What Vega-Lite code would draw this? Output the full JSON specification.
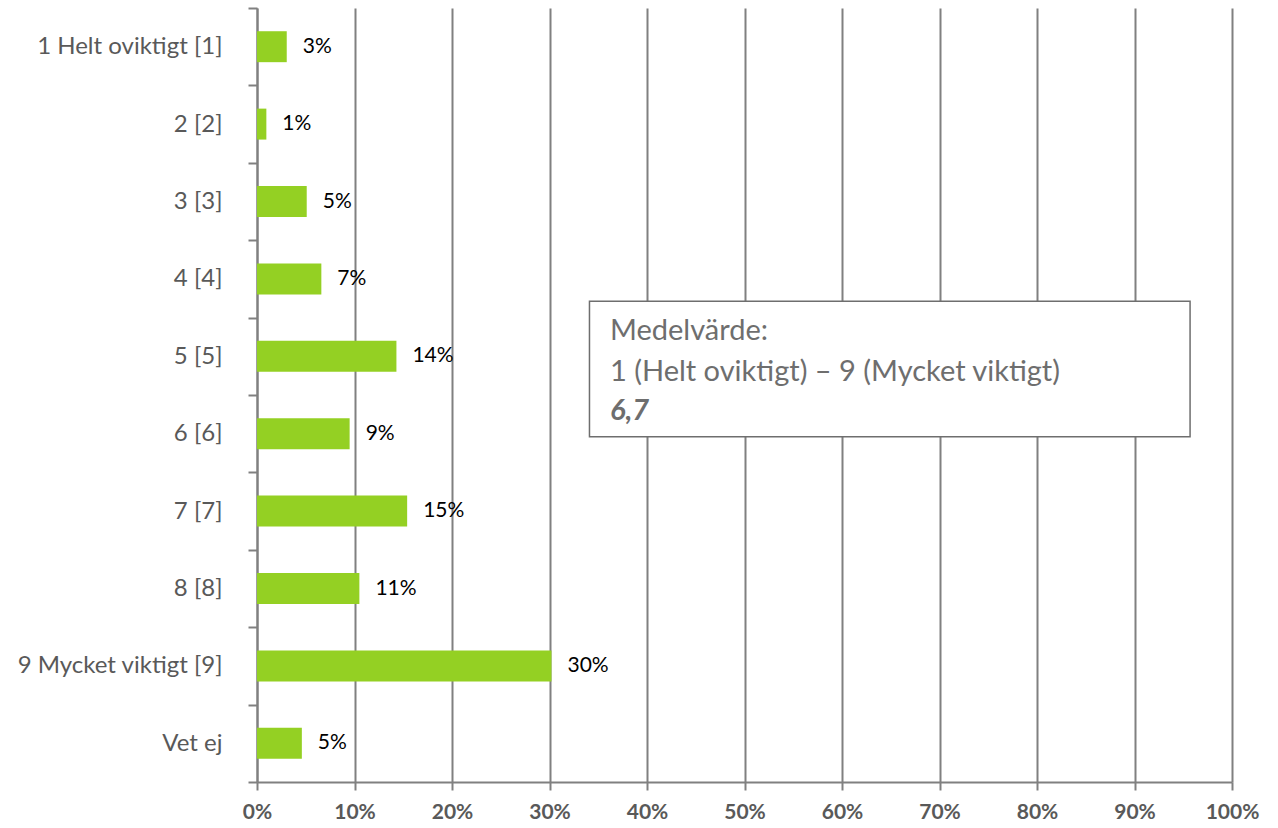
{
  "$schema": "https://vega.github.io/schema/vega-lite/v6.json",
  "autosize": {"type": "none"},
  "padding": {"left": 257, "top": 8, "right": 46, "bottom": 46},
  "width": 975,
  "height": 774,
  "background": "white",
  "config": {
    "view": {"stroke": null},
    "font": "Lato"
  },
  "layer": [
    {
      "data": {
        "values": [
          {"category": "1 Helt oviktigt [1]", "value": 3.05, "label": "3%"},
          {"category": "2 [2]", "value": 0.96, "label": "1%"},
          {"category": "3 [3]", "value": 5.1, "label": "5%"},
          {"category": "4 [4]", "value": 6.6, "label": "7%"},
          {"category": "5 [5]", "value": 14.3, "label": "14%"},
          {"category": "6 [6]", "value": 9.5, "label": "9%"},
          {"category": "7 [7]", "value": 15.4, "label": "15%"},
          {"category": "8 [8]", "value": 10.5, "label": "11%"},
          {"category": "9 Mycket viktigt [9]", "value": 30.2, "label": "30%"},
          {"category": "Vet ej", "value": 4.6, "label": "5%"}
        ]
      },
      "encoding": {
        "y": {
          "field": "category",
          "type": "nominal",
          "sort": null,
          "scale": {"paddingInner": 0, "paddingOuter": 0},
          "axis": {
            "title": null,
            "domain": true,
            "domainColor": "#808080",
            "domainWidth": 2,
            "ticks": true,
            "tickBand": "extent",
            "tickSize": 9,
            "tickColor": "#808080",
            "tickWidth": 2,
            "labelPadding": 26,
            "labelFontSize": 24,
            "labelLimit": 400,
            "labelColor": "#595959",
            "labelFont": "Lato",
            "grid": false
          }
        },
        "x": {
          "field": "value",
          "type": "quantitative",
          "scale": {"domain": [0, 100], "nice": false},
          "axis": {
            "title": null,
            "values": [0, 10, 20, 30, 40, 50, 60, 70, 80, 90, 100],
            "labelExpr": "datum.value + '%'",
            "grid": true,
            "gridColor": "#808080",
            "gridWidth": 2,
            "domainColor": "#808080",
            "domainWidth": 2,
            "tickColor": "#808080",
            "tickWidth": 2,
            "tickSize": 8,
            "labelPadding": 11,
            "labelFontSize": 21,
            "labelFontWeight": "bold",
            "labelColor": "#595959",
            "labelFlush": false
          }
        }
      },
      "layer": [
        {"mark": {"type": "bar", "color": "#94D023", "height": {"band": 0.4}}},
        {
          "mark": {"type": "text", "align": "left", "baseline": "middle", "dx": 16, "fontSize": 21, "color": "#000000", "font": "Lato"},
          "encoding": {"text": {"field": "label"}}
        }
      ]
    },
    {
      "data": {"values": [{}]},
      "layer": [
        {
          "mark": {"type": "rect", "fill": "white", "stroke": "#6e6e6e", "strokeWidth": 1.5},
          "encoding": {
            "x": {"datum": 34.1, "type": "quantitative"},
            "x2": {"datum": 95.7},
            "y": {"datum": 37.9, "type": "quantitative", "scale": {"domain": [0, 100], "reverse": true, "nice": false}, "axis": null},
            "y2": {"datum": 55.4}
          }
        },
        {
          "mark": {"type": "text", "align": "left", "baseline": "middle", "fontSize": 29, "color": "#6e6e6e", "font": "Lato", "text": "Medelvärde:"},
          "encoding": {
            "x": {"datum": 36.2, "type": "quantitative"},
            "y": {"datum": 41.7, "type": "quantitative", "scale": {"domain": [0, 100], "reverse": true, "nice": false}, "axis": null}
          }
        },
        {
          "mark": {"type": "text", "align": "left", "baseline": "middle", "fontSize": 29, "color": "#6e6e6e", "font": "Lato", "text": "1 (Helt oviktigt) – 9 (Mycket viktigt)"},
          "encoding": {
            "x": {"datum": 36.2, "type": "quantitative"},
            "y": {"datum": 47.0, "type": "quantitative", "scale": {"domain": [0, 100], "reverse": true, "nice": false}, "axis": null}
          }
        },
        {
          "mark": {"type": "text", "align": "left", "baseline": "middle", "fontSize": 29, "color": "#6e6e6e", "font": "Lato", "fontWeight": "bold", "fontStyle": "italic", "text": "6,7"},
          "encoding": {
            "x": {"datum": 36.2, "type": "quantitative"},
            "y": {"datum": 52.1, "type": "quantitative", "scale": {"domain": [0, 100], "reverse": true, "nice": false}, "axis": null}
          }
        }
      ]
    }
  ],
  "resolve": {"scale": {"y": "independent"}, "axis": {"y": "independent"}}
}
